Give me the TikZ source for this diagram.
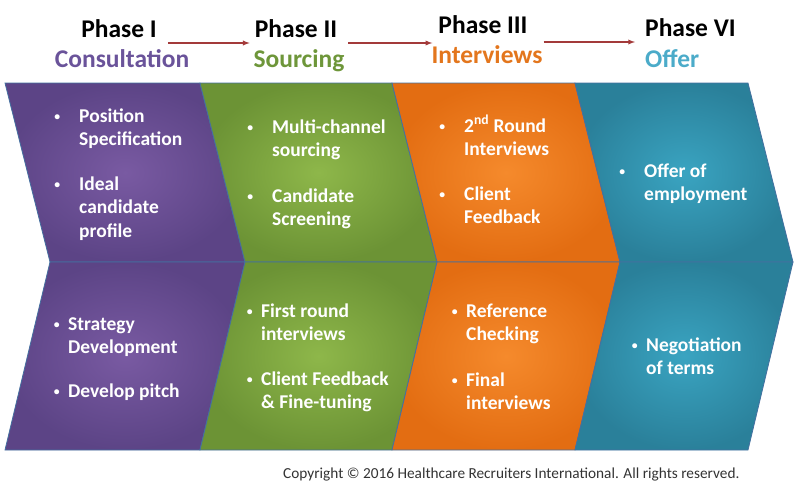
\documentclass[tikz,border=0pt]{standalone}
\usepackage{fontspec}
\setmainfont{Carlito}
\definecolor{purL}{HTML}{795AA2}
\definecolor{purD}{HTML}{5C4486}
\definecolor{grnL}{HTML}{8EB74A}
\definecolor{grnD}{HTML}{6C9335}
\definecolor{orgL}{HTML}{F58A2C}
\definecolor{orgD}{HTML}{E36D12}
\definecolor{bluL}{HTML}{3AA4C1}
\definecolor{bluD}{HTML}{2A809A}
\definecolor{edge}{HTML}{4470A0}
\definecolor{arrow}{HTML}{A33A3A}
\definecolor{consult}{HTML}{6A539A}
\definecolor{source}{HTML}{6E963A}
\definecolor{interv}{HTML}{E3761D}
\definecolor{offer}{HTML}{4BABC9}
\newcommand{\bl}[2]{\llap{\raisebox{1.5pt}{\scalebox{0.6}{\textbullet}}\hspace{#1}}\begin{tabular}[t]{@{}l@{}}#2\end{tabular}}

\begin{document}
\begin{tikzpicture}[x=1pt, y=-1pt,
    panel/.style={draw=edge, line width=0.8pt},
    item/.style={text=white, font=\fontsize{19.5}{23.5}\selectfont\bfseries, anchor=base west, inner sep=0pt},
    phase/.style={font=\fontsize{25.5}{30}\selectfont\bfseries, anchor=base, inner sep=0pt},
    arr/.style={draw=arrow, line width=1.3pt, -latex}
                    ]
    \useasboundingbox (0,0) rectangle (800,488);
    % chevron panels
    \foreach \a/\b/\c in {5/200/pur, 200/392/grn, 392/575/org, 575/748/blu}{
        \shadedraw[panel, inner color=\c L, outer color=\c D]
            (\a,83) -- (\b,83) -- (\b+45,262) -- (\a+45,262) -- cycle;
        \shadedraw[panel, inner color=\c L, outer color=\c D]
            (\a+45,262) -- (\b+45,262) -- (\b,450) -- (\a,450) -- cycle;
    }
    % headings
    \node[phase] (p1) at (119,37) {Phase I};
    \node[phase] (p2) at (296,37) {Phase II};
    \node[phase] (p3) at (483,33) {Phase III};
    \node[phase, anchor=base west] (p4) at (645,36) {Phase VI};
    \node[phase, text=consult] (t1) at (122,67) {Consultation};
    \node[phase, text=source] (t2) at (299,67) {Sourcing};
    \node[phase, text=interv] (t3) at (487,63) {Interviews};
    \node[phase, text=offer, anchor=base west] (t4) at (645,67) {Offer};
    \coordinate (a1) at ([shift={(11,6)}]p1.base east);
    \coordinate (a2) at ([shift={(11,6)}]p2.base east);
    \coordinate (a3) at ([shift={(16,9)}]p3.base east);
    \draw[arr, shorten >=5pt] (a1) -- (a1 -| p2.west);
    \draw[arr, shorten >=6pt] (a2) -- (a2 -| p3.west);
    \draw[arr, shorten >=10pt] (a3) -- (a3 -| p4.west);
    % top row
    \node[item] (i1) at (79,122) {\bl{19pt}{Position\\Specification}};
    \node[item] (i2) at (79,190) {\bl{19pt}{Ideal\\candidate\\profile}};
    \node[item] (i3) at (272,133) {\bl{19pt}{Multi-channel\\sourcing}};
    \node[item] (i4) at (272,202) {\bl{19pt}{Candidate\\Screening}};
    \node[item] (i5) at (464,132) {\bl{19pt}{2\textsuperscript{nd} Round\\Interviews}};
    \node[item] (i6) at (464,200) {\bl{19pt}{Client\\Feedback}};
    \node[item] (i7) at (644,177) {\bl{19pt}{Offer of\\employment}};
    % bottom row
    \node[item] (j1) at (68,330) {\bl{8.5pt}{Strategy\\Development}};
    \node[item] (j2) at (68,397) {\bl{8.5pt}{Develop pitch}};
    \node[item] (j3) at (261,317) {\bl{8.5pt}{First round\\interviews}};
    \node[item] (j4) at (261,385) {\bl{8.5pt}{Client Feedback\\\& Fine-tuning}};
    \node[item] (j5) at (466,317) {\bl{8.5pt}{Reference\\Checking}};
    \node[item] (j6) at (466,386) {\bl{8.5pt}{Final\\interviews}};
    \node[item] (j7) at (646,351) {\bl{8.5pt}{Negotiation\\of terms}};
    % footer
    \node[anchor=base west, inner sep=0pt, text=black!80, font=\fontsize{15.3}{18}\selectfont] (cr) at (283,478)
        {Copyright © 2016 Healthcare Recruiters International. All rights reserved.};
\end{tikzpicture}
\end{document}
